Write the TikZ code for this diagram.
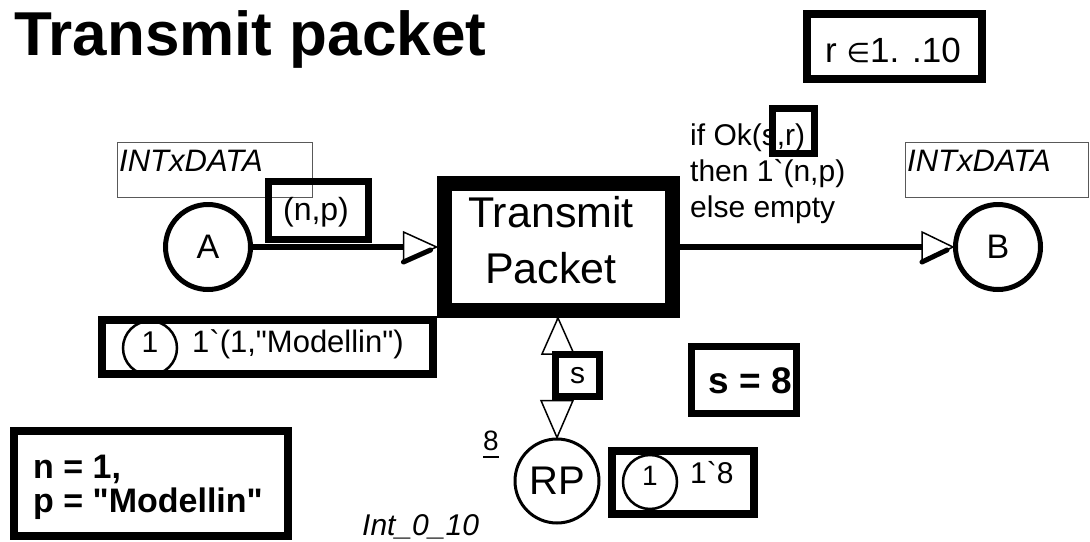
\documentclass[tikz,border=0pt]{standalone}
\usepackage{fontspec}
\setmainfont{Liberation Sans}[Ligatures=TeXOff]
\newfontfamily\symfont{DejaVu Sans}
\usetikzlibrary{calc}
\begin{document}
\begin{tikzpicture}[x=1pt,y=-1pt,
  place/.style={circle, draw, line width=5, inner sep=0, minimum size=85, font=\fontsize{34}{40}\selectfont},
  trans/.style={rectangle, draw, line width=15, minimum width=228, minimum height=127},
  thickbox/.style={rectangle, draw, line width=7, inner sep=0},
  typebox/.style={rectangle, draw=black!65, line width=1.2, inner sep=0},
  arcline/.style={line width=6},
  tiptri/.style={fill=white, draw, line width=1.5, line join=miter},
  boldedge/.style={line width=5, line cap=round},
  tok/.style={circle, draw, line width=2.5, minimum size=54, inner sep=0},
  txt/.style={inner sep=0, anchor=base west},
  f30/.style={font=\fontsize{30}{36}\selectfont}
]
\useasboundingbox (0,0) rectangle (1090,541);

% title
\node[txt, font=\fontsize{62}{74}\selectfont\bfseries] (title) at (14,55) {Transmit packet};

% r in 1..10
\node[thickbox, line width=8, minimum width=175, minimum height=65] (rbox) at (894.5,46.5) {};
\node[inner sep=0, anchor=base, font=\fontsize{35}{42}\selectfont] (rtxt) at (893,62) {r {\fontsize{27}{30}\symfont ∈}1. .10};

% places and transition
\node[place] (A) at (208,247) {A};
\node[trans] (T) at (558,247) {};
\node[inner sep=0, anchor=base, align=center, font=\fontsize{43}{56}\selectfont] (Ttxt) at (551,283) {Transmit\\Packet};
\node[place] (B) at (998,247) {B};
\node[place, line width=3, minimum size=84, font=\fontsize{40}{48}\selectfont] (RP) at (557,481) {RP};

% colour sets
\node[typebox, minimum width=195, minimum height=55, anchor=north west] (tA) at (117,142) {};
\node[txt, font=\fontsize{31}{36}\selectfont\itshape] (tAt) at (119,171) {INTxDATA};
\node[typebox, minimum width=183, minimum height=55, anchor=north west] (tB) at (905,142) {};
\node[txt, font=\fontsize{31}{36}\selectfont\itshape] (tBt) at (907,171) {INTxDATA};

% arc A -> T
\draw[arcline, shorten >=33] (A) -- (T);
\draw[tiptri] (T.west) -- ++(-33,-15) -- ++(0,30) -- cycle;
\draw[boldedge] ($(T.west)+(-33,15)$) -- ($(T.west)+(-6,3)$);
\node[thickbox, minimum width=100, minimum height=58] (npbox) at (318.5,210.5) {};
\node[inner sep=0, anchor=base, font=\fontsize{32}{38}\selectfont] (npt) at (316,220) {(n,p)};

% arc T -> B
\draw[arcline, shorten >=31] (T) -- (B);
\draw[tiptri] (B.west) -- ++(-31,-15) -- ++(0,30) -- cycle;
\draw[boldedge] ($(B.west)+(-31,15)$) -- ($(B.west)+(-6,3)$);
\node[txt, align=left, f30] (insc) at (690,217) {if Ok(s,r)\\then 1`(n,p)\\else empty};
\node[thickbox, minimum width=42, minimum height=45] (rbx) at (793.5,131) {};

% arc T <-> RP
\draw[line width=2] (T) -- (RP);
\draw[tiptri] (T.south) -- ++(-16,36) -- ++(32,0) -- cycle;
\draw[tiptri] (RP.north) -- ++(-16,-37) -- ++(32,0) -- cycle;
\node[thickbox, fill=white, minimum width=44, minimum height=42, f30] (sb) at (577.5,375.5) {s};

% initial marking of A
\node[thickbox, line width=8, minimum width=331, minimum height=54] (mA) at (267.5,347) {};
\node[tok] (mAc) at (150,348) {};
\node[inner sep=0, anchor=base, font=\fontsize{30}{36}\selectfont] (mA1) at (150,352) {1};
\node[txt, font=\fontsize{31}{36}\selectfont] (mAt) at (192,352) {1`(1,"Modellin")};

% initial marking of RP
\node[thickbox, line width=8, minimum width=142, minimum height=63] (mRP) at (683,482.5) {};
\node[tok] (mRPc) at (650,482) {};
\node[inner sep=0, anchor=base, font=\fontsize{28}{32}\selectfont] (mRP1) at (650,485) {1};
\node[txt, f30] (mRPt) at (690,483) {1`8};

% 8 (initial expression) and colour set of RP
\node[txt, font=\fontsize{28}{32}\selectfont] (eight) at (483,450) {8};
\draw[line width=2] ($(eight.base west)+(0,7)$) -- ($(eight.base east)+(0,7)$);
\node[txt, font=\fontsize{30}{36}\selectfont\itshape] (int) at (362,535) {Int\_0\_10};

% bindings
\node[thickbox, minimum width=105, minimum height=67] (sbox) at (744,380) {};
\node[inner sep=0, anchor=base, font=\fontsize{37}{40}\selectfont\bfseries] (stxt) at (750,393) {s = 8};
\node[thickbox, line width=8, minimum width=274, minimum height=105] (nbox) at (151,483.5) {};
\node[txt, align=left, font=\fontsize{34}{34}\selectfont\bfseries] (ntxt) at (33,512) {n = 1,\\p = "Modellin"};
\end{tikzpicture}
\end{document}
